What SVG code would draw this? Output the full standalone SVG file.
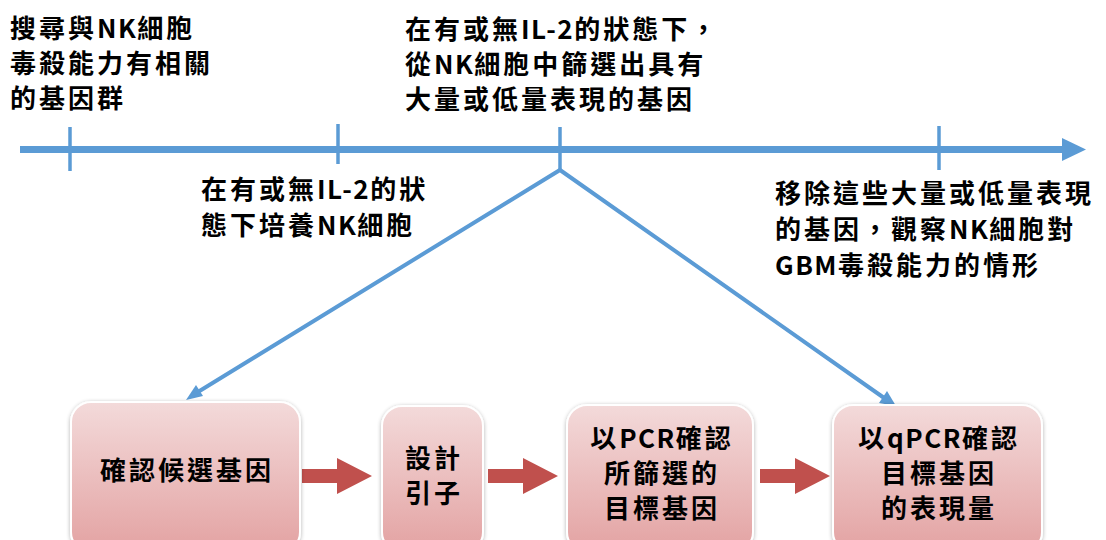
<svg xmlns="http://www.w3.org/2000/svg" width="1106" height="540" viewBox="0 0 1106 540">
<defs>
<style>
.t{font-family:"Noto Sans CJK TC","Noto Sans CJK SC",sans-serif;font-size:26px;font-weight:700;fill:#000;letter-spacing:3px}
.l{letter-spacing:1.5px}
.c{text-anchor:middle}
.blue{stroke:#5b9bd5;fill:none}
.box{fill:url(#g);stroke:#ffffff;stroke-width:2;filter:url(#sh)}
.red{fill:#c0504d}
</style>
<linearGradient id="g" x1="0" y1="0" x2="0" y2="1">
<stop offset="0" stop-color="#f3dada"/>
<stop offset="1" stop-color="#e3a2a2"/>
</linearGradient>
<filter id="sh" x="-10%" y="-10%" width="120%" height="120%">
<feGaussianBlur in="SourceAlpha" stdDeviation="2"/>
<feOffset dx="0" dy="1" result="b"/>
<feComponentTransfer><feFuncA type="linear" slope="0.3"/></feComponentTransfer>
<feMerge><feMergeNode/><feMergeNode in="SourceGraphic"/></feMerge>
</filter>
</defs>

<g id="connectors">
<line class="blue" x1="20" y1="149.5" x2="1064" y2="149.5" stroke-width="7"/>
<path d="M1062,138 L1086,149.5 L1062,161 Z" fill="#5b9bd5"/>
<line class="blue" x1="70" y1="127" x2="70" y2="171" stroke-width="3.5"/>
<line class="blue" x1="338" y1="124" x2="338" y2="164" stroke-width="3.5"/>
<line class="blue" x1="560" y1="127" x2="560" y2="171" stroke-width="3.5"/>
<line class="blue" x1="939" y1="126" x2="939" y2="170" stroke-width="3.5"/>
<polyline class="blue" points="193,395 560,170 887,400" stroke-width="4" stroke-linejoin="miter" fill="none"/>
<path d="M186,400 L196,385 L203,396 Z" fill="#5b9bd5"/>
<path d="M896,406 L879,403 L887,391 Z" fill="#5b9bd5"/>
<path class="red" d="M302,469 L337,469 L337,458 L372,476 L337,494 L337,483 L302,483 Z"/>
<path class="red" d="M488,469 L523,469 L523,458 L558,476 L523,494 L523,483 L488,483 Z"/>
<path class="red" d="M760,469 L795,469 L795,458 L830,476 L795,494 L795,483 L760,483 Z"/>
</g>

<g id="label-search">
<text class="t" x="10" y="38">搜尋與<tspan class="l">NK</tspan>細胞</text>
<text class="t" x="10" y="73">毒殺能力有相關</text>
<text class="t" x="10" y="108">的基因群</text>
</g>
<g id="label-culture">
<text class="t" x="201" y="199">在有或無<tspan class="l">IL-2</tspan>的狀</text>
<text class="t" x="201" y="235">態下培養<tspan class="l">NK</tspan>細胞</text>
</g>
<g id="label-screen">
<text class="t" x="405" y="39">在有或無<tspan class="l">IL-2</tspan>的狀態下，</text>
<text class="t" x="405" y="74">從<tspan class="l">NK</tspan>細胞中篩選出具有</text>
<text class="t" x="405" y="109">大量或低量表現的基因</text>
</g>
<g id="label-remove">
<text class="t" x="775" y="203">移除這些大量或低量表現</text>
<text class="t" x="775" y="239">的基因，觀察<tspan class="l">NK</tspan>細胞對</text>
<text class="t" x="775" y="275"><tspan class="l">GBM</tspan>毒殺能力的情形</text>
</g>

<g id="box1">
<rect class="box" x="71" y="402" width="229" height="150" rx="20"/>
<text class="t c" x="187" y="480">確認候選基因</text>
</g>
<g id="box2">
<rect class="box" x="382" y="406" width="101" height="146" rx="20"/>
<text class="t c" x="434" y="468">設計</text>
<text class="t c" x="434" y="503">引子</text>
</g>
<g id="box3">
<rect class="box" x="567" y="405" width="186" height="147" rx="20"/>
<text class="t c" x="662" y="448">以<tspan class="l">PCR</tspan>確認</text>
<text class="t c" x="662" y="483">所篩選的</text>
<text class="t c" x="662" y="518">目標基因</text>
</g>
<g id="box4">
<rect class="box" x="833" y="405" width="209" height="147" rx="20"/>
<text class="t c" x="939" y="448">以<tspan class="l">qPCR</tspan>確認</text>
<text class="t c" x="939" y="483">目標基因</text>
<text class="t c" x="939" y="518">的表現量</text>
</g>
</svg>
